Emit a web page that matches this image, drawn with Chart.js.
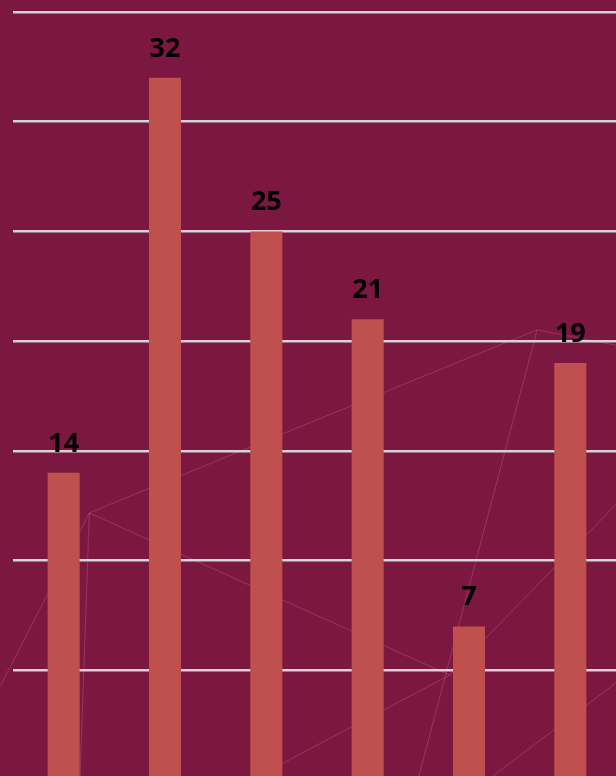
<!DOCTYPE html>
<html>
<head>
<meta charset="utf-8">
<script src="https://cdn.jsdelivr.net/npm/chart.js@4.4.1/dist/chart.umd.min.js"></script>
<style>
  html, body { margin: 0; padding: 0; background: #7b1740; overflow: hidden; }
  #wrap { position: relative; width: 616px; height: 776px; overflow: hidden; }
  #myChart { position: absolute; left: 0; top: 0; }
</style>
</head>
<body>
<div id="wrap"><canvas id="myChart" width="622" height="780"></canvas></div>
<script>
// chart data
var categories = ["A", "B", "C", "D", "E", "F"];
var values = [14, 32, 25, 21, 7, 19];
var yTicks = [0, 5, 10, 15, 20, 25, 30, 35];

// faint network texture behind the chart (fractions of the visible 616x776 area)
var netLines = [
    [0.145, 0.661, 0.872, 0.425], [0.872, 0.425, 1.0, 0.445],
    [0.872, 0.425, 0.68, 1.0], [0.145, 0.661, 0.13, 1.0],
    [0.145, 0.661, 0.0, 0.885], [0.145, 0.661, 0.73, 0.87],
    [1.0, 0.65, 0.73, 0.87], [0.73, 0.87, 0.42, 1.0],
    [1.0, 0.88, 0.8, 1.0]
];

var bgPlugin = {
    id: 'bg',
    beforeDraw: function (chart) {
        var c = chart.ctx, w = 616, h = 776;
        c.save();
        c.fillStyle = '#7b1740';
        c.fillRect(0, 0, chart.width, chart.height);
        c.strokeStyle = 'rgba(255, 160, 200, 0.22)';
        c.lineWidth = 1;
        netLines.forEach(function (l) {
            c.beginPath();
            c.moveTo(l[0] * w, l[1] * h);
            c.lineTo(l[2] * w, l[3] * h);
            c.stroke();
        });
        c.restore();
    }
};

var labelPlugin = {
    id: 'barLabels',
    afterDatasetsDraw: function (chart) {
        var c = chart.ctx;
        var meta = chart.getDatasetMeta(0);
        c.save();
        c.font = 'bold 27px "Open Sans", "Liberation Sans", sans-serif';
        c.fillStyle = '#000000';
        c.textAlign = 'center';
        c.textBaseline = 'alphabetic';
        meta.data.forEach(function (bar, i) {
            c.fillText(String(values[i]), bar.x, bar.y - 21);
        });
        c.restore();
    }
};

var ctx = document.getElementById("myChart");
var myChart = new Chart(ctx, {
    type: 'bar',
    data: {
        labels: categories,
        datasets: [{
            data: values,
            backgroundColor: '#c0504d',
            borderWidth: 0,
            categoryPercentage: 1,
            barPercentage: 0.316
        }]
    },
    options: {
        responsive: false,
        animation: false,
        devicePixelRatio: 1,
        layout: { padding: { left: 13, right: 1, top: 12, bottom: 0 } },
        plugins: {
            legend: { display: false },
            tooltip: { enabled: false }
        },
        scales: {
            x: {
                display: false
            },
            y: {
                min: 0,
                max: 35,
                display: true,
                border: { display: false },
                ticks: { display: false, stepSize: 5 },
                afterBuildTicks: function (axis) {
                    axis.ticks = yTicks.map(function (v) { return { value: v }; });
                },
                grid: {
                    color: '#d4d4d4',
                    lineWidth: 2.5,
                    drawTicks: false
                }
            }
        }
    },
    plugins: [bgPlugin, labelPlugin]
});
</script>
</body>
</html>
